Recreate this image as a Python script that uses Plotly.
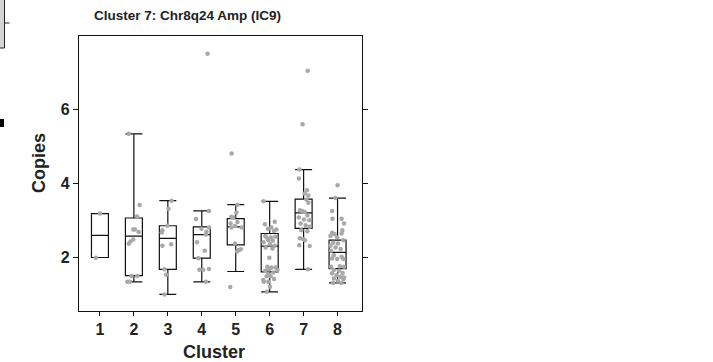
import plotly.graph_objects as go

# ---- data ----
clusters = [1, 2, 3, 4, 5, 6, 7, 8]
tick_labels = ["1", "2", "3", "4", "5", "6", "7", "8"]
q1 = [2.00, 1.51, 1.68, 1.98, 2.34, 1.61, 2.79, 1.70]
median = [2.60, 2.58, 2.52, 2.62, 2.83, 2.31, 3.21, 2.14]
q3 = [3.19, 3.07, 2.86, 2.83, 3.05, 2.65, 3.58, 2.47]
lower_whisker = [2.00, 1.34, 1.00, 1.34, 1.62, 1.07, 1.68, 1.31]
upper_whisker = [3.19, 5.35, 3.54, 3.26, 3.43, 3.52, 4.38, 3.61]

# individual samples (copies) and their horizontal jitter, per cluster
c1_y = [3.19, 1.99]
c1_j = [0.00, -0.12]
c2_y = [5.35, 3.42, 3.11, 2.76, 2.76, 2.69, 2.49, 2.43, 2.37, 1.50, 1.50, 1.34, 1.34]
c2_j = [-0.15, 0.17, 0.09, -0.02, 0.03, 0.14, -0.02, -0.10, -0.15, -0.07, 0.10, -0.19, -0.12]
c3_y = [3.54, 3.32, 2.86, 2.74, 2.68, 2.32, 2.36, 1.68, 1.53, 1.00]
c3_j = [0.11, 0.02, -0.01, -0.16, -0.18, -0.16, 0.10, -0.10, -0.05, -0.10]
c4_y = [7.52, 3.26, 3.04, 2.81, 2.78, 2.70, 2.62, 2.41, 2.18, 1.98, 1.67, 1.67, 1.69, 1.34]
c4_j = [0.17, 0.21, -0.17, 0.21, -0.01, 0.14, 0.12, -0.14, 0.09, -0.10, -0.07, 0.04, 0.21, 0.12]
c5_y = [4.82, 1.20, 3.43, 3.22, 3.10, 3.08, 2.96, 2.92, 2.85, 2.81, 2.81, 2.38, 2.20, 2.22, 2.16]
c5_j = [-0.12, -0.16, 0.05, 0.02, -0.13, -0.07, 0.05, -0.15, -0.02, -0.13, 0.18, -0.02, 0.09, 0.15, 0.04]
c6_y = [3.52, 2.97, 2.90, 2.81, 2.78, 2.76, 2.72, 2.58, 2.54, 2.54, 2.56, 2.47, 2.45, 2.41,
        2.36, 2.32, 2.27, 2.24, 1.99, 1.75, 1.73, 1.73, 1.68, 1.66, 1.64, 1.59, 1.55, 1.49,
        1.49, 1.34, 1.34, 1.21, 1.07, 1.39, 1.42]
c6_j = [-0.18, 0.15, -0.14, 0.05, -0.05, 0.20, 0.13, -0.13, -0.09, 0.04, 0.17, -0.04, 0.09, -0.18,
        0.01, 0.15, -0.12, 0.08, -0.01, -0.07, 0.05, 0.17, -0.02, 0.23, -0.13, 0.11, -0.05, 0.03,
        -0.09, -0.17, -0.04, 0.01, -0.08, -0.19, 0.13]
c7_y = [7.06, 5.61, 4.38, 4.14, 3.82, 3.73, 3.68, 3.57, 3.48, 3.28, 3.26, 3.23, 3.14, 3.08,
        3.03, 3.01, 2.92, 2.87, 2.83, 2.74, 2.71, 2.52, 2.50, 2.47, 2.33, 2.31, 1.68]
c7_j = [0.12, -0.03, -0.12, -0.14, 0.10, 0.03, 0.14, 0.08, 0.14, -0.11, -0.04, 0.03, 0.11, -0.14,
        0.01, 0.17, -0.09, 0.06, 0.18, -0.07, 0.11, -0.11, -0.02, 0.04, -0.13, 0.18, 0.13]
c8_y = [3.96, 3.61, 3.26, 3.05, 3.05, 2.92, 2.74, 2.65, 2.67, 2.63, 2.58, 2.54, 2.47, 2.40,
        2.38, 2.32, 2.27, 2.23, 2.18, 2.06, 2.02, 1.97, 1.96, 1.96, 1.76, 1.75, 1.75, 1.66,
        1.64, 1.58, 1.57, 1.52, 1.48, 1.46, 1.43, 1.37, 1.31, 1.31, 1.41]
c8_j = [0.00, -0.06, -0.16, -0.15, 0.12, 0.19, 0.14, 0.12, -0.16, -0.09, -0.21, -0.01, 0.17, -0.13,
        0.01, -0.21, -0.06, 0.09, -0.19, -0.11, 0.12, -0.16, -0.01, 0.17, 0.07, -0.19, 0.19, -0.11,
        0.04, 0.15, -0.16, -0.03, 0.09, 0.19, -0.11, 0.01, -0.13, 0.11, 0.17]

samples_y = [c1_y, c2_y, c3_y, c4_y, c5_y, c6_y, c7_y, c8_y]
samples_j = [c1_j, c2_j, c3_j, c4_j, c5_j, c6_j, c7_j, c8_j]

title_text = "Cluster 7: Chr8q24 Amp (IC9)"
x_title = "Cluster"
y_title = "Copies"

# ---- figure ----
FONT = "Liberation Sans, Arial, Helvetica, sans-serif"

pts_x, pts_y = [], []
for c, ys, js in zip(clusters, samples_y, samples_j):
    for y, j in zip(ys, js):
        pts_x.append(c + j)
        pts_y.append(y)

fig = go.Figure()
fig.add_trace(go.Box(
    x=clusters, q1=q1, median=median, q3=q3,
    lowerfence=lower_whisker, upperfence=upper_whisker,
    width=0.5, whiskerwidth=1, boxpoints=False,
    fillcolor="rgba(255,255,255,0)",
    line=dict(color="#111111", width=1.2),
    hoverinfo="skip", showlegend=False,
))
fig.add_trace(go.Scatter(
    x=pts_x, y=pts_y, mode="markers",
    marker=dict(color="#a8a8a8", size=4.5, line=dict(width=0)),
    hoverinfo="skip", showlegend=False,
))

W, H = 713, 362
L, R, T, B = 79, 351, 36, 51
pw, ph = W - L - R, H - T - B

def px(xpix):
    return (xpix - L) / pw

def py(ypix):
    return (H - B - ypix) / ph

fig.update_layout(
    width=W, height=H,
    margin=dict(l=L, r=R, t=T, b=B),
    paper_bgcolor="white", plot_bgcolor="white",
    font=dict(family=FONT, color="#222222"),
    xaxis=dict(
        range=[0.383, 8.72], tickmode="array", tickvals=clusters, ticktext=tick_labels,
        showgrid=False, zeroline=False, showline=True, linecolor="#111111", linewidth=1.2,
        mirror=True, ticks="outside", ticklen=4, tickcolor="#111111",
        tickfont=dict(size=16, family=FONT, weight="bold", color="#222222"),
    ),
    yaxis=dict(
        range=[0.55, 8.0], tickmode="array", tickvals=[2, 4, 6], ticktext=["2", "4", "6"],
        showgrid=False, zeroline=False, showline=True, linecolor="#111111", linewidth=1.2,
        mirror="ticks", ticks="outside", ticklen=5, tickcolor="#111111",
        tickfont=dict(size=16, family=FONT, weight="bold", color="#222222"),
    ),
    annotations=[
        dict(text=title_text, xref="paper", yref="paper", x=px(92), y=py(16),
             xanchor="left", yanchor="middle", showarrow=False,
             font=dict(size=13.5, family=FONT, weight="bold", color="#222222")),
        dict(text=x_title, xref="paper", yref="paper", x=px(214), y=py(352),
             xanchor="center", yanchor="middle", showarrow=False,
             font=dict(size=18, family=FONT, weight="bold", color="#222222")),
        dict(text=y_title, xref="paper", yref="paper", x=px(39), y=py(163),
             xanchor="center", yanchor="middle", showarrow=False, textangle=-90,
             font=dict(size=18, family=FONT, weight="bold", color="#222222")),
    ],
    shapes=[
        # fragments of the neighbouring panel at the left edge
        dict(type="rect", xref="paper", yref="paper", x0=px(-2), x1=px(4.5), y0=py(48), y1=py(-2),
             fillcolor="#d4d4d4", line=dict(color="#222222", width=1)),
        dict(type="line", xref="paper", yref="paper", x0=px(4.5), x1=px(9.5), y0=py(23), y1=py(23),
             line=dict(color="#222222", width=1)),
        dict(type="rect", xref="paper", yref="paper", x0=px(-1), x1=px(4), y0=py(127), y1=py(119),
             fillcolor="#000000", line=dict(width=0)),
    ],
)

fig.write_html("out.html")
